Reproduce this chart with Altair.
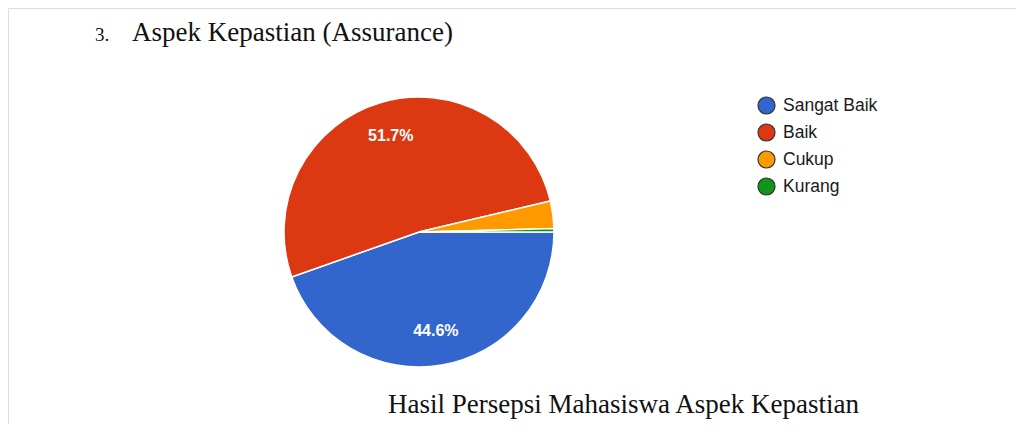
import math
import altair as alt
import pandas as pd

# data
categories = ["Sangat Baik", "Baik", "Cukup", "Kurang"]
values = [44.6, 51.7, 3.3, 0.4]
colors = ["#3366cc", "#dc3912", "#ff9900", "#109618"]
heading_number = "3."
heading_text = "Aspek Kepastian (Assurance)"
caption_text = "Hasil Persepsi Mahasiswa Aspek Kepastian"

df = pd.DataFrame({"kategori": categories, "persen": values, "urut": list(range(len(categories)))})

W, H = 1008, 416
CX, CY, R = 411, 224, 135

theta = alt.Theta("persen:Q", stack=True,
                  scale=alt.Scale(range=[math.pi / 2, math.pi / 2 + 2 * math.pi]))
order = alt.Order("urut:Q", sort="ascending")

base = alt.Chart(df)

pie = base.mark_arc(outerRadius=R, stroke="white", strokeWidth=1.5).encode(
    theta=theta,
    order=order,
    x=alt.value(CX),
    y=alt.value(CY),
    color=alt.Color(
        "kategori:N",
        sort=categories,
        scale=alt.Scale(domain=categories, range=colors),
        legend=alt.Legend(
            title=None,
            orient="none",
            legendX=749,
            legendY=88,
            symbolType="circle",
            symbolSize=290,
            symbolStrokeWidth=1.2,
            symbolStrokeColor="#333333",
            labelFont="Liberation Sans",
            labelFontSize=17.5,
            labelColor="#1a1a1a",
            labelOffset=7,
            rowPadding=4,
            padding=0,
        ),
    ),
)

labels = base.transform_calculate(
    label="datum.persen > 5 ? format(datum.persen, '.1f') + '%' : ''"
).mark_text(
    radius=100, font="Liberation Sans", fontSize=16, fontWeight="bold", color="white"
).encode(
    theta=theta,
    order=order,
    x=alt.value(CX),
    y=alt.value(CY),
    text="label:N",
)

num = alt.Chart(pd.DataFrame({"t": [heading_number]})).mark_text(
    font="Liberation Serif", fontSize=19, align="left", baseline="alphabetic", color="#111111"
).encode(text="t:N", x=alt.value(87), y=alt.value(33))

head = alt.Chart(pd.DataFrame({"t": [heading_text]})).mark_text(
    font="Liberation Serif", fontSize=27, align="left", baseline="alphabetic", color="#111111"
).encode(text="t:N", x=alt.value(124), y=alt.value(33))

cap = alt.Chart(pd.DataFrame({"t": [caption_text]})).mark_text(
    font="Liberation Serif", fontSize=27, align="left", baseline="alphabetic", color="#111111"
).encode(text="t:N", x=alt.value(380), y=alt.value(405))

chart = alt.layer(pie, labels, num, head, cap).properties(
    width=W, height=H, autosize=alt.AutoSizeParams(type="none"), padding=0
).configure_view(strokeWidth=0, stroke="transparent").configure(background="white")

chart.save("out.html", embed_options={"renderer": "svg", "actions": False})
